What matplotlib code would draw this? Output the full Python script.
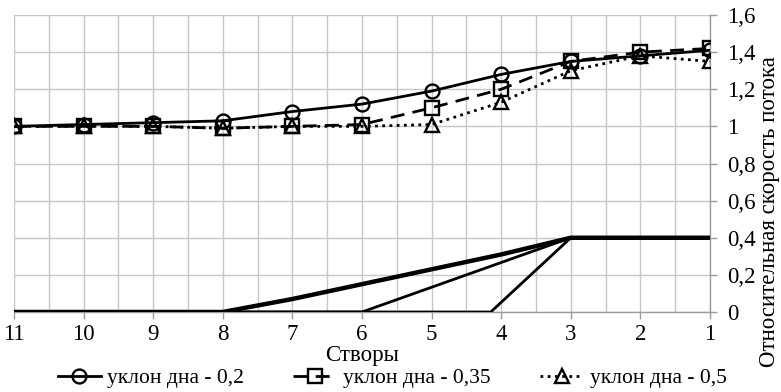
import matplotlib
matplotlib.use("Agg")
import matplotlib.pyplot as plt
from matplotlib.ticker import MultipleLocator, FuncFormatter

plt.rcParams['font.family'] = ['Liberation Serif', 'DejaVu Serif']

stations = [11, 10, 9, 8, 7, 6, 5, 4, 3, 2, 1]
v_02 = [1.00, 1.01, 1.02, 1.03, 1.08, 1.12, 1.19, 1.28, 1.35, 1.38, 1.41]
v_035 = [1.00, 1.00, 1.00, 0.99, 1.00, 1.01, 1.10, 1.20, 1.35, 1.40, 1.42]
v_05 = [1.00, 1.00, 1.00, 0.99, 1.00, 1.00, 1.01, 1.13, 1.30, 1.38, 1.35]

bed_a_x = [11, 8, 7, 6, 5, 4, 3, 1]
bed_a_y = [0, 0, 0.07, 0.15, 0.23, 0.31, 0.40, 0.40]
bed_b_x = [11, 6, 3, 1]
bed_b_y = [0, 0, 0.40, 0.40]
bed_c_x = [11, 4.15, 3, 1]
bed_c_y = [0, 0, 0.40, 0.40]

labels = ['уклон дна - 0,2', 'уклон дна - 0,35', 'уклон дна - 0,5']
x_title = 'Створы'
y_title = 'Относительная скорость потока'

W, H = 781, 392
fig = plt.figure(figsize=(W/100, H/100), dpi=100)
ax = fig.add_axes([14/W, 1-312/H, (710-14)/W, (312-15)/H])

grid_c = '#c6c6c6'
ax.set_xlim(11, 1)
ax.set_ylim(0, 1.6)
ax.xaxis.set_major_locator(MultipleLocator(1))
ax.xaxis.set_minor_locator(MultipleLocator(0.5))
ax.yaxis.set_major_locator(MultipleLocator(0.2))
ax.grid(True, which='both', axis='x', color=grid_c, lw=1)
ax.grid(True, which='major', axis='y', color=grid_c, lw=1)
ax.set_axisbelow(True)

for s in ['top', 'left']:
    ax.spines[s].set_visible(False)
for s in ['right', 'bottom']:
    ax.spines[s].set_color('#9a9a9a')
    ax.spines[s].set_linewidth(1)

ax.yaxis.tick_right()
ax.tick_params(axis='both', which='major', colors='#9a9a9a', length=5, width=1,
               labelcolor='black', labelsize=16.5)
ax.tick_params(axis='x', which='minor', length=0)
ax.tick_params(axis='x', pad=4)
ax.tick_params(axis='y', pad=7)

def yfmt(v, p):
    s = ('%.1f' % v)
    if s.endswith('.0'):
        s = s[:-2]
    return s.replace('.', ',')
ax.yaxis.set_major_formatter(FuncFormatter(yfmt))
ax.xaxis.set_major_formatter(FuncFormatter(lambda v, p: '%d' % round(v)))

# bed profiles
ax.plot(bed_a_x, bed_a_y, color='black', lw=3.2, solid_joinstyle='round', zorder=3)
ax.plot(bed_b_x, bed_b_y, color='black', lw=2.0, zorder=3)
ax.plot(bed_c_x, bed_c_y, color='black', lw=2.0, zorder=3)

mk = dict(markersize=10, markeredgewidth=1.7, markerfacecolor='none', markeredgecolor='black')
l1, = ax.plot(stations, v_02, color='black', lw=2.0, marker='o', zorder=4, **mk)
l2, = ax.plot(stations, v_035, color='black', lw=2.0, marker='s', dashes=(5, 3), zorder=4, **mk)
l3, = ax.plot(stations, v_05, color='black', lw=2.0, marker='^', dashes=(1, 1.6), zorder=4, **mk)

fig.text(362/W, 1-355/H, x_title, fontsize=16.5, ha='center', va='center')
fig.text(770/W, 1-212/H, y_title, fontsize=16.5, ha='center', va='center', rotation=90)

fig.legend([l1, l2, l3], labels, loc='center', bbox_to_anchor=(392/W, 1-378/H),
           ncol=3, frameon=False, fontsize=15.5, handlelength=2.0, handletextpad=0.3,
           columnspacing=2.3, borderpad=0)

fig.savefig('out.png', dpi=100)
